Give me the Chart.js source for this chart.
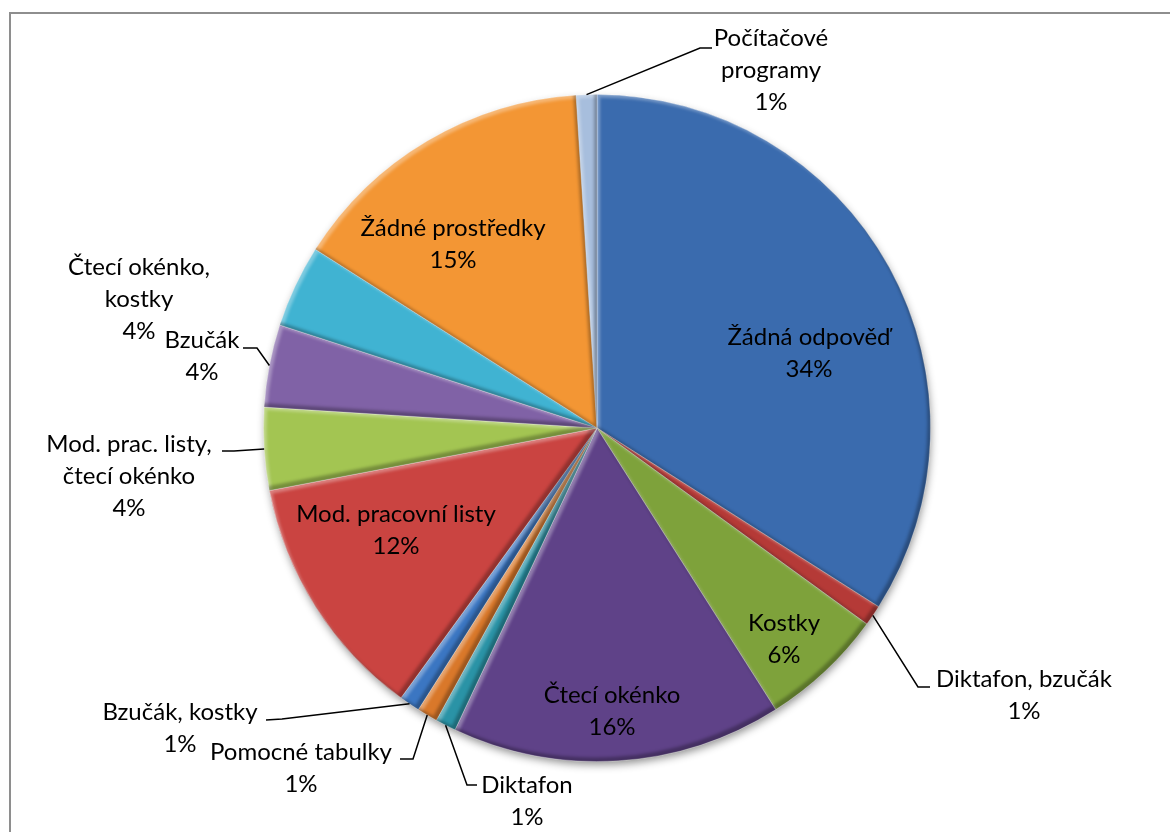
<!DOCTYPE html>
<html>
<head>
<meta charset="utf-8">
<script src="https://cdn.jsdelivr.net/npm/chart.js@4.4.1/dist/chart.umd.min.js"></script>
<style>
    html, body { margin: 0; padding: 0; background: #fff; overflow: hidden; }
    #wrap { position: relative; width: 1170px; height: 832px; }
    #frame { position: absolute; left: 9px; top: 12px; width: 1180px; height: 840px; border: 2px solid #8e8e8e; }
    #chartBox { position: absolute; left: 0; top: 0; width: 1170px; height: 832px; }
</style>
</head>
<body>
<div id="wrap">
    <div id="frame"></div>
    <div id="chartBox"><canvas id="aidsChart"></canvas></div>
</div>
<script>
// categories, clockwise from 12 o'clock
const categories = [
    'Žádná odpověď', 'Diktafon, bzučák', 'Kostky', 'Čtecí okénko', 'Diktafon',
    'Pomocné tabulky', 'Bzučák, kostky', 'Mod. pracovní listy',
    ['Mod. prac. listy,', 'čtecí okénko'], 'Bzučák', ['Čtecí okénko,', 'kostky'],
    'Žádné prostředky', ['Počítačové', 'programy']
];
// share of answers in percent
const shares = [34, 1, 6, 16, 1, 1, 1, 12, 4, 4, 4, 15, 1];

const sliceColors = [
    '#3A6BAE', '#B53A37', '#7EA23B', '#5F4288', '#2A93A6',
    '#D9782A', '#3B76C2', '#CA4441', '#A3C552', '#8062A6',
    '#40B3D2', '#F39634', '#A7BEDD'
];

// where each label sits: text centre x, first baseline y, optional leader elbow/end
const labelSpots = [
    { x: 809, y: 345 },
    { x: 1024, y: 687, leader: [918, 687, 930, 687] },
    { x: 784, y: 631 },
    { x: 612, y: 703 },
    { x: 527, y: 793, leader: [467, 785, 477, 785] },
    { x: 301, y: 760, leader: [413, 759, 400, 759] },
    { x: 180, y: 720, leader: [282, 719, 266, 720] },
    { x: 396, y: 522 },
    { x: 129, y: 452, leader: [234, 451, 222, 451] },
    { x: 202, y: 348, leader: [257, 348, 243, 348] },
    { x: 139, y: 275 },
    { x: 453, y: 236 },
    { x: 771, y: 46, leader: [700, 48, 712, 48] }
];

const labelFont = '24px Lato, "Open Sans", sans-serif';
const lineStep = 32;

function slicePath(ctx, a, dx, dy) {
    ctx.moveTo(a.x + dx, a.y + dy);
    ctx.arc(a.x + dx, a.y + dy, a.outerRadius, a.startAngle, a.endAngle);
    ctx.closePath();
}

// soft drop shadow under the whole pie
const pieShadow = {
    id: 'pieShadow',
    beforeDatasetsDraw(chart) {
        const arc = chart.getDatasetMeta(0).data[0];
        if (!arc) return;
        const a = arc.getProps(['x', 'y', 'outerRadius'], true);
        const ctx = chart.ctx;
        ctx.save();
        ctx.shadowColor = 'rgba(0,0,0,0.45)';
        ctx.shadowBlur = 8;
        ctx.shadowOffsetX = 1;
        ctx.shadowOffsetY = 4;
        ctx.beginPath();
        ctx.arc(a.x, a.y, a.outerRadius - 1, 0, Math.PI * 2);
        ctx.fillStyle = '#888';
        ctx.fill();
        ctx.restore();
    }
};

// light/dark inner edges on each slice
const sliceBevel = {
    id: 'sliceBevel',
    afterDatasetsDraw(chart) {
        const ctx = chart.ctx;
        const W = chart.width, H = chart.height;
        chart.getDatasetMeta(0).data.forEach(arc => {
            const a = arc.getProps(['x', 'y', 'startAngle', 'endAngle', 'outerRadius'], true);
            ctx.save();
            ctx.beginPath();
            slicePath(ctx, a, 0, 0);
            ctx.clip();
            ctx.filter = 'blur(1.5px)';
            ctx.beginPath();
            ctx.rect(0, 0, W, H);
            slicePath(ctx, a, 3, 3);
            ctx.fillStyle = 'rgba(255,255,255,0.32)';
            ctx.fill('evenodd');
            ctx.beginPath();
            ctx.rect(0, 0, W, H);
            slicePath(ctx, a, -3, -4);
            ctx.fillStyle = 'rgba(0,0,0,0.28)';
            ctx.fill('evenodd');
            ctx.restore();
        });
    }
};

// category + percent labels, with leader lines for the outside ones
const sliceLabels = {
    id: 'sliceLabels',
    afterDraw(chart) {
        const ctx = chart.ctx;
        const meta = chart.getDatasetMeta(0);
        const total = shares.reduce((s, v) => s + v, 0);
        ctx.save();
        ctx.font = labelFont;
        ctx.fillStyle = '#000';
        ctx.textAlign = 'center';
        ctx.textBaseline = 'alphabetic';
        meta.data.forEach((arc, i) => {
            const spot = labelSpots[i];
            const name = categories[i];
            const lines = (Array.isArray(name) ? name.slice() : [name]);
            lines.push(Math.round(shares[i] / total * 100) + '%');
            lines.forEach((t, k) => ctx.fillText(t, spot.x, spot.y + k * lineStep));

            if (spot.leader) {
                const a = arc.getProps(['x', 'y', 'startAngle', 'endAngle', 'outerRadius'], true);
                const mid = (a.startAngle + a.endAngle) / 2;
                const sx = a.x + Math.cos(mid) * a.outerRadius;
                const sy = a.y + Math.sin(mid) * a.outerRadius;
                ctx.beginPath();
                ctx.moveTo(sx, sy);
                ctx.lineTo(spot.leader[0], spot.leader[1]);
                ctx.lineTo(spot.leader[2], spot.leader[3]);
                ctx.strokeStyle = '#000';
                ctx.lineWidth = 1.5;
                ctx.stroke();
            }
        });
        ctx.restore();
    }
};

const ctx = document.getElementById('aidsChart').getContext('2d');
const aidsChart = new Chart(ctx, {
    type: 'pie',
    data: {
        labels: categories,
        datasets: [{
            data: shares,
            backgroundColor: sliceColors,
            borderColor: 'rgba(255,255,255,0.35)',
            borderWidth: 1
        }]
    },
    options: {
        responsive: true,
        maintainAspectRatio: false,
        animation: false,
        layout: {
            padding: { left: 263, right: 239, top: 94, bottom: 70 }
        },
        plugins: {
            legend: { display: false },
            tooltip: { enabled: false }
        }
    },
    plugins: [pieShadow, sliceBevel, sliceLabels]
});
</script>
</body>
</html>
